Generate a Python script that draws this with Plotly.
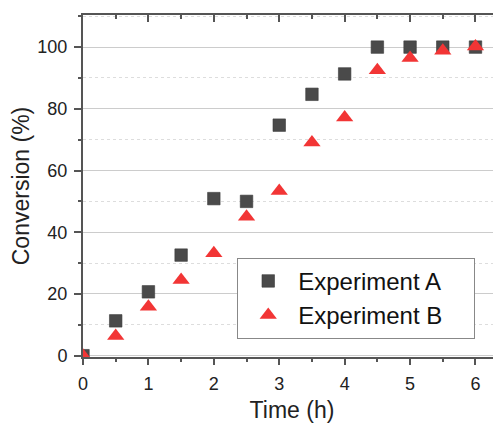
import plotly.graph_objects as go

time_h = [0, 0.5, 1, 1.5, 2, 2.5, 3, 3.5, 4, 4.5, 5, 5.5, 6]
exp_a = [0, 11.3, 20.7, 32.6, 50.9, 50.0, 74.7, 84.7, 91.3, 100, 100, 100, 100]
exp_b = [0, 6.4, 15.9, 24.5, 33.2, 45.0, 53.4, 69.1, 77.2, 92.5, 96.5, 98.8, 100.2]
series_names = ["Experiment A", "Experiment B"]

FONT = "Arial, Liberation Sans, sans-serif"
AXC = "#555555"
PAD = "\u00a0" * 4  # right padding inside the legend box

fig = go.Figure()
fig.add_trace(go.Scatter(x=time_h, y=exp_a, mode="markers", name=series_names[0] + PAD,
                         marker=dict(symbol="square", size=12.5, color="#4a4a4a",
                                     line=dict(width=0.6, color="#3a3a3a"))))
fig.add_trace(go.Scatter(x=time_h, y=exp_b, mode="markers", name=series_names[1] + PAD,
                         marker=dict(symbol="triangle-up", size=15, color="#f23535",
                                     line=dict(width=0))))
# transparent trace to carry the top (mirror) axis
fig.add_trace(go.Scatter(x=time_h, y=exp_a, xaxis="x2", mode="markers",
                         marker=dict(opacity=0), showlegend=False, hoverinfo="skip"))

fig.update_layout(
    width=493, height=415,
    margin=dict(l=75, r=0, t=7, b=66),
    paper_bgcolor="white", plot_bgcolor="white",
    font=dict(family=FONT, color="#222222"),
    showlegend=True,
    legend=dict(x=0.369, y=0.29, xanchor="left", yanchor="top",
                bgcolor="white", bordercolor="#888888", borderwidth=1,
                font=dict(size=24, family=FONT, color="#111111"),
                itemwidth=50, tracegroupgap=0),
    xaxis=dict(range=[0, 6.39], dtick=1, tick0=0, showgrid=False, zeroline=False,
               automargin=False,
               showline=True, linecolor=AXC, linewidth=2,
               ticks="outside", ticklen=6, tickwidth=1.5, tickcolor=AXC,
               minor=dict(dtick=0.5, ticks="outside", ticklen=3, tickwidth=1.5, tickcolor=AXC, showgrid=False),
               tickfont=dict(size=18), ticklabelstandoff=3,
               title=dict(text="Time (h)", font=dict(size=23), standoff=12)),
    xaxis2=dict(range=[0, 6.39], overlaying="x", side="top", anchor="y", dtick=1, tick0=0,
                automargin=False,
                showgrid=False, zeroline=False, showticklabels=False,
                showline=True, linecolor=AXC, linewidth=2,
                ticks="inside", ticklen=7, tickwidth=1.5, tickcolor=AXC,
                minor=dict(dtick=0.5, ticks="inside", ticklen=4, tickwidth=1.5, tickcolor=AXC, showgrid=False)),
    yaxis=dict(range=[-0.42, 110.4], dtick=20, tick0=0, zeroline=False,
               automargin=False,
               showgrid=True, gridcolor="#cccccc", gridwidth=1,
               showline=True, linecolor=AXC, linewidth=2,
               ticks="outside", ticklen=7, tickwidth=1.5, tickcolor=AXC,
               minor=dict(dtick=10, ticks="outside", ticklen=3, tickwidth=1.5, tickcolor=AXC,
                          showgrid=True, gridcolor="#dddddd", griddash="dot", gridwidth=1),
               tickfont=dict(size=18), ticklabelstandoff=3,
               title=dict(text="Conversion (%)", font=dict(size=23), standoff=8)),
)

fig.write_html("out.html")
